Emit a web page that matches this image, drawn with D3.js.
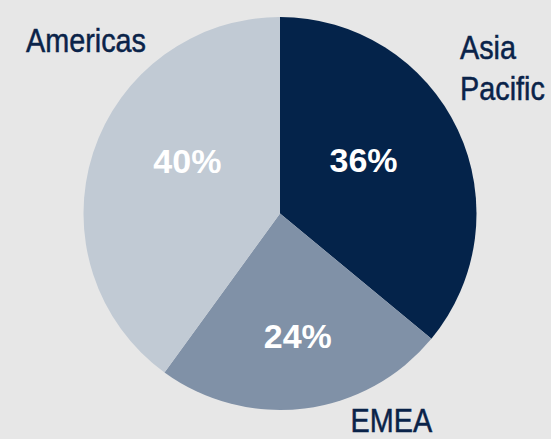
<!DOCTYPE html>
<html>
<head>
<meta charset="utf-8">
<script src="https://cdn.jsdelivr.net/npm/d3@7"></script>
<style>
  body { margin: 0; background: #e7e7e7; }
  svg { display: block; }
</style>
</head>
<body>
<div id="chart"></div>
<script>
const regions = ["Asia Pacific", "EMEA", "Americas"];
const shares = [36, 24, 40];
const colors = ["#04234a", "#8091a7", "#c1cad4"];

const width = 551, height = 439;
const cx = 280, cy = 213.5, radius = 196.5;

const svg = d3.select("#chart")
  .append("svg")
  .attr("width", width)
  .attr("height", height);

const g = svg.append("g").attr("transform", `translate(${cx},${cy})`);

const pie = d3.pie().sort(null).value(d => d);
const arcs = pie(shares);

const arc = d3.arc().innerRadius(0).outerRadius(radius);
const labelArc = d3.arc().innerRadius(110).outerRadius(110);
// best-fit style nudges for the percent labels
const nudge = [[-16, -7], [4, 13], [12, -19]];

g.selectAll("path")
  .data(arcs)
  .enter()
  .append("path")
  .attr("d", arc)
  .attr("fill", (d, i) => colors[i]);

// percentage labels inside the slices
g.selectAll("text.pct")
  .data(arcs)
  .enter()
  .append("text")
  .attr("class", "pct")
  .attr("transform", (d, i) => {
    const c = labelArc.centroid(d);
    return `translate(${c[0] + nudge[i][0]},${c[1] + nudge[i][1]})`;
  })
  .attr("text-anchor", "middle")
  .attr("dy", "0.36em")
  .attr("font-family", "Liberation Sans, Arial, sans-serif")
  .attr("font-weight", "bold")
  .attr("font-size", 34)
  .attr("fill", "#fff")
  .text(d => d.data + "%");

// region names outside the pie (narrow face faked with scaleX)
const outer = [
  { lines: ["Asia", "Pacific"], x: 180, y: -155, anchor: "start" },
  { lines: ["EMEA"], x: 70.5, y: 218, anchor: "start" },
  { lines: ["Americas"], x: -134, y: -162, anchor: "end" }
];

const names = g.selectAll("text.name")
  .data(outer)
  .enter()
  .append("text")
  .attr("class", "name")
  .attr("transform", d => `translate(${d.x},${d.y}) scale(0.86,1)`)
  .attr("text-anchor", d => d.anchor)
  .attr("font-family", "Liberation Sans, Arial, sans-serif")
  .attr("font-size", 33.5)
  .attr("fill", "#0a2349")
  .attr("stroke", "#0a2349")
  .attr("stroke-width", 0.5);

names.selectAll("tspan")
  .data((d, i) => d.lines.map(l => ({ l, i: regions[i] })))
  .enter()
  .append("tspan")
  .attr("x", 0)
  .attr("dy", (d, i) => i ? 42 : 0)
  .text(d => d.l);
</script>
</body>
</html>
